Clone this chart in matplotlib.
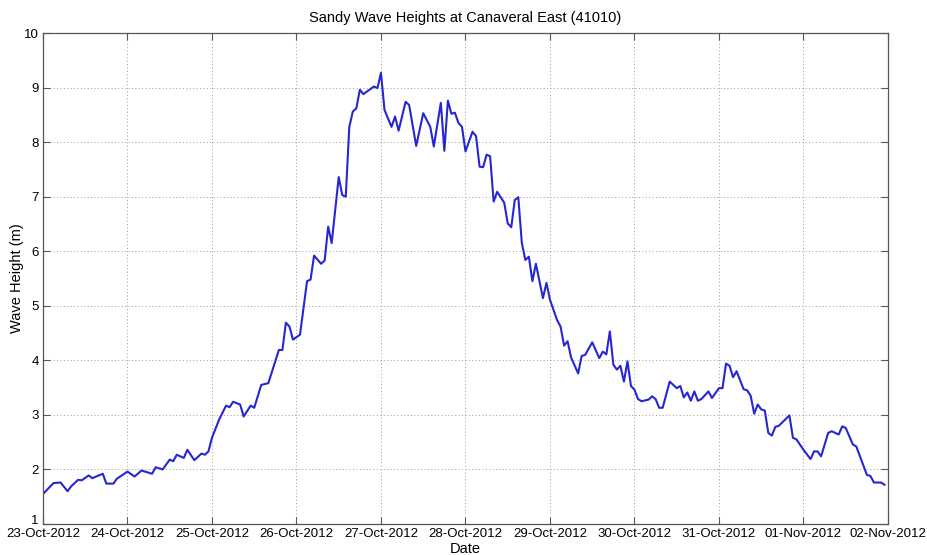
"""Wave height at NDBC buoy 41010 (Canaveral East) during Hurricane Sandy."""

from datetime import datetime, timedelta

import matplotlib
matplotlib.use("Agg")
import matplotlib.dates as mdates
import matplotlib.pyplot as plt
from matplotlib.transforms import ScaledTranslation

plt.rcParams["font.family"] = ["Liberation Sans", "DejaVu Sans"]

START = datetime(2012, 10, 23)
END = datetime(2012, 11, 2)

# Hours since 23-Oct-2012 00:00 and significant wave height (m).
HOURS = [
    0, 3, 5, 7, 8, 10, 11, 13, 14, 17, 18, 20, 21, 24, 26, 28, 31, 32, 34, 36,
    37, 38, 40, 41, 43, 45, 46, 47, 48, 50, 52, 53, 54, 56, 57, 59, 60, 62, 64,
    67, 68, 69, 70, 71, 73, 75, 76, 77, 79, 80, 81, 82, 84, 85, 86, 87, 88, 89,
    90, 91, 94, 95, 96, 97, 99, 100, 101, 103, 104, 106, 108, 110, 111, 113,
    114, 115, 116, 117, 118, 119, 120, 122, 123, 124, 125, 126, 127, 128, 129,
    131, 132, 133, 134, 135, 136, 137, 138, 139, 140, 142, 143, 144, 146, 147,
    148, 149, 150, 152, 153, 154, 156, 158, 159, 160, 161, 162, 163, 164, 165,
    166, 167, 168, 169, 170, 172, 173, 174, 175, 176, 178, 180, 181, 182, 183,
    184, 185, 186, 187, 189, 190, 192, 193, 194, 195, 196, 197, 199, 200, 201,
    202, 203, 204, 205, 206, 207, 208, 209, 212, 213, 214, 216, 218, 219, 220,
    221, 223, 224, 226, 227, 228, 230, 231, 234, 235, 236, 237, 238, 239,
]
WAVE_HEIGHT = [
    1.55, 1.75, 1.76, 1.60, 1.69, 1.81, 1.80, 1.89, 1.84, 1.92, 1.74, 1.74,
    1.83, 1.96, 1.87, 1.98, 1.92, 2.04, 2.00, 2.18, 2.15, 2.27, 2.21, 2.36,
    2.17, 2.29, 2.27, 2.33, 2.58, 2.91, 3.17, 3.14, 3.24, 3.19, 2.97, 3.17,
    3.13, 3.55, 3.58, 4.19, 4.19, 4.69, 4.62, 4.38, 4.47, 5.45, 5.48, 5.92,
    5.77, 5.83, 6.45, 6.15, 7.36, 7.03, 7.00, 8.28, 8.56, 8.62, 8.96, 8.88,
    9.02, 8.99, 9.27, 8.59, 8.28, 8.47, 8.21, 8.74, 8.68, 7.93, 8.53, 8.28,
    7.92, 8.72, 7.84, 8.76, 8.52, 8.54, 8.35, 8.28, 7.83, 8.19, 8.11, 7.55,
    7.54, 7.77, 7.74, 6.91, 7.09, 6.89, 6.51, 6.44, 6.94, 6.99, 6.15, 5.84,
    5.90, 5.45, 5.77, 5.14, 5.42, 5.11, 4.74, 4.62, 4.27, 4.35, 4.05, 3.76,
    4.08, 4.10, 4.33, 4.04, 4.16, 4.11, 4.53, 3.92, 3.83, 3.90, 3.61, 3.98,
    3.53, 3.46, 3.29, 3.25, 3.28, 3.34, 3.29, 3.13, 3.13, 3.61, 3.49, 3.53,
    3.32, 3.41, 3.26, 3.43, 3.26, 3.29, 3.43, 3.31, 3.49, 3.49, 3.94, 3.90,
    3.69, 3.80, 3.47, 3.45, 3.35, 3.02, 3.19, 3.10, 3.08, 2.67, 2.62, 2.78,
    2.80, 2.99, 2.58, 2.55, 2.36, 2.19, 2.33, 2.33, 2.24, 2.67, 2.70, 2.64,
    2.79, 2.76, 2.46, 2.42, 1.90, 1.88, 1.76, 1.76, 1.76, 1.72,
]

Y_TICKS = list(range(1, 11))


def main() -> None:
    times = [START + timedelta(hours=h) for h in HOURS]

    fig = plt.figure(figsize=(9.28, 5.55), dpi=100)
    ax = fig.add_axes([0.0463, 0.0559, 0.9106, 0.8846])

    ax.plot(times, WAVE_HEIGHT, color="#2626d4", lw=1.5)

    ax.set_xlim(START, END)
    ax.set_ylim(1, 10)
    ax.set_yticks(Y_TICKS)
    ax.xaxis.set_major_locator(mdates.DayLocator())
    ax.xaxis.set_major_formatter(mdates.DateFormatter("%d-%b-%Y"))

    # Boxed axes with inward ticks on every side and a dotted grid.
    for spine in ax.spines.values():
        spine.set_color("#555555")
        spine.set_linewidth(0.9)
    ax.tick_params(direction="in", top=True, right=True, length=5,
                   width=0.8, color="#555555", labelsize=9.5, pad=3)
    ax.grid(True, ls=(0, (1, 2.5)), color="#999999", lw=0.7)

    ax.set_title("Sandy Wave Heights at Canaveral East (41010)",
                 fontsize=10.5, pad=8)
    ax.set_xlabel("Date", fontsize=10.5, labelpad=1)
    ax.set_ylabel("Wave Height (m)", fontsize=10.5)
    ax.yaxis.set_label_coords(-0.022, 0.5)

    # Lift the bottom y label so it sits above the first date label.
    fig.canvas.draw()
    first = ax.get_yticklabels()[0]
    first.set_transform(first.get_transform()
                        + ScaledTranslation(0, 3 / 72, fig.dpi_scale_trans))

    fig.savefig("out.png", dpi=100)
    plt.close(fig)


if __name__ == "__main__":
    main()
